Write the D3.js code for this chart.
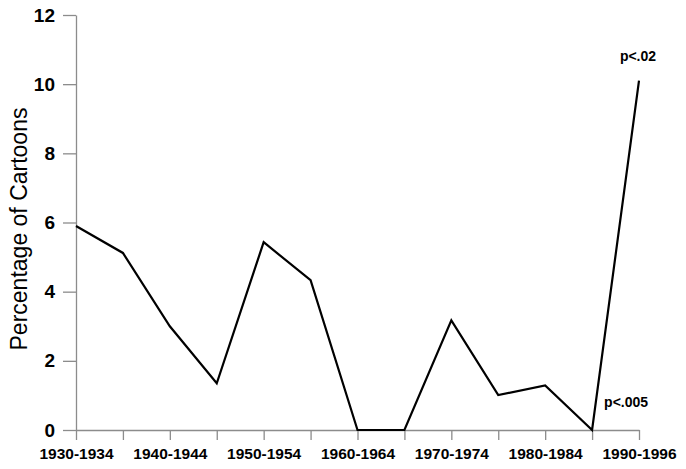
<!DOCTYPE html>
<html>
<head>
<meta charset="utf-8">
<script src="https://cdn.jsdelivr.net/npm/d3@7"></script>
<style>
  body { margin: 0; background: #fff; }
  svg { display: block; font-family: "Liberation Sans", Arial, sans-serif; }
</style>
</head>
<body>
<div id="graph"></div>
<script>
// periods along the x axis
var periods = ["1930-1934", "1935-1939", "1940-1944", "1945-1949", "1950-1954", "1955-1959",
               "1960-1964", "1965-1969", "1970-1974", "1975-1979", "1980-1984", "1985-1989", "1990-1996"];
// percentage of cartoons per period
var percents = [5.9, 5.12, 3.0, 1.35, 5.43, 4.33, 0, 0, 3.17, 1.01, 1.29, 0, 10.1];
var yTicks = [0, 2, 4, 6, 8, 10, 12];
// significance notes: [period, text]
var notes = [["1990-1996", "p<.02"], ["1985-1989", "p<.005"]];

var width = 686, height = 469;
var margin = {top: 15, right: 47, bottom: 39, left: 76};

var svg = d3.select("#graph")
    .append("svg")
    .attr("width", width)
    .attr("height", height);

var x = d3.scalePoint()
    .domain(periods)
    .range([margin.left, width - margin.right]);

var y = d3.scaleLinear()
    .domain([0, 12])
    .range([height - margin.bottom, margin.top]);

var axisColor = "#8c8c8c";

// y axis
var gy = svg.append("g")
    .attr("transform", "translate(" + margin.left + ",0)")
    .call(d3.axisLeft(y).tickValues(yTicks).tickSize(13).tickSizeOuter(0).tickPadding(8));
gy.selectAll("path, line").attr("stroke", axisColor).attr("stroke-width", 1.3);
gy.selectAll("text")
    .attr("fill", "#000")
    .style("font-size", "19px")
    .style("font-weight", "bold");

// x axis
var gx = svg.append("g")
    .attr("transform", "translate(0," + (height - margin.bottom) + ")")
    .call(d3.axisBottom(x).tickSize(10).tickSizeOuter(0).tickPadding(8)
        .tickFormat(function(d, i) { return i % 2 === 0 ? d : ""; }));
gx.selectAll("path, line").attr("stroke", axisColor).attr("stroke-width", 1.3);
gx.selectAll("text")
    .attr("fill", "#000")
    .style("font-size", "15.5px")
    .style("font-weight", "bold");

// y label
svg.append("text")
    .attr("transform", "translate(27," + (margin.top + 214) + ") rotate(-90)")
    .attr("text-anchor", "middle")
    .style("font-size", "23px")
    .attr("fill", "#000")
    .text("Percentage of Cartoons");

// the line
var line = d3.line()
    .x(function(d, i) { return x(periods[i]); })
    .y(function(d) { return y(d); });

svg.append("path")
    .datum(percents)
    .attr("fill", "none")
    .attr("stroke", "#000")
    .attr("stroke-width", 2.2)
    .attr("stroke-linejoin", "miter")
    .attr("d", line);

// p-value notes
svg.selectAll(".note")
    .data(notes)
    .enter().append("text")
    .attr("class", "note")
    .attr("x", function(d, i) { return i === 0 ? x(d[0]) - 1 : x(d[0]) + 12; })
    .attr("y", function(d, i) {
        var v = percents[periods.indexOf(d[0])];
        return i === 0 ? y(v) - 20 : y(v) - 23;
    })
    .attr("text-anchor", function(d, i) { return i === 0 ? "middle" : "start"; })
    .style("font-size", "14px")
    .style("font-weight", "bold")
    .attr("fill", "#000")
    .text(function(d) { return d[1]; });
</script>
</body>
</html>
